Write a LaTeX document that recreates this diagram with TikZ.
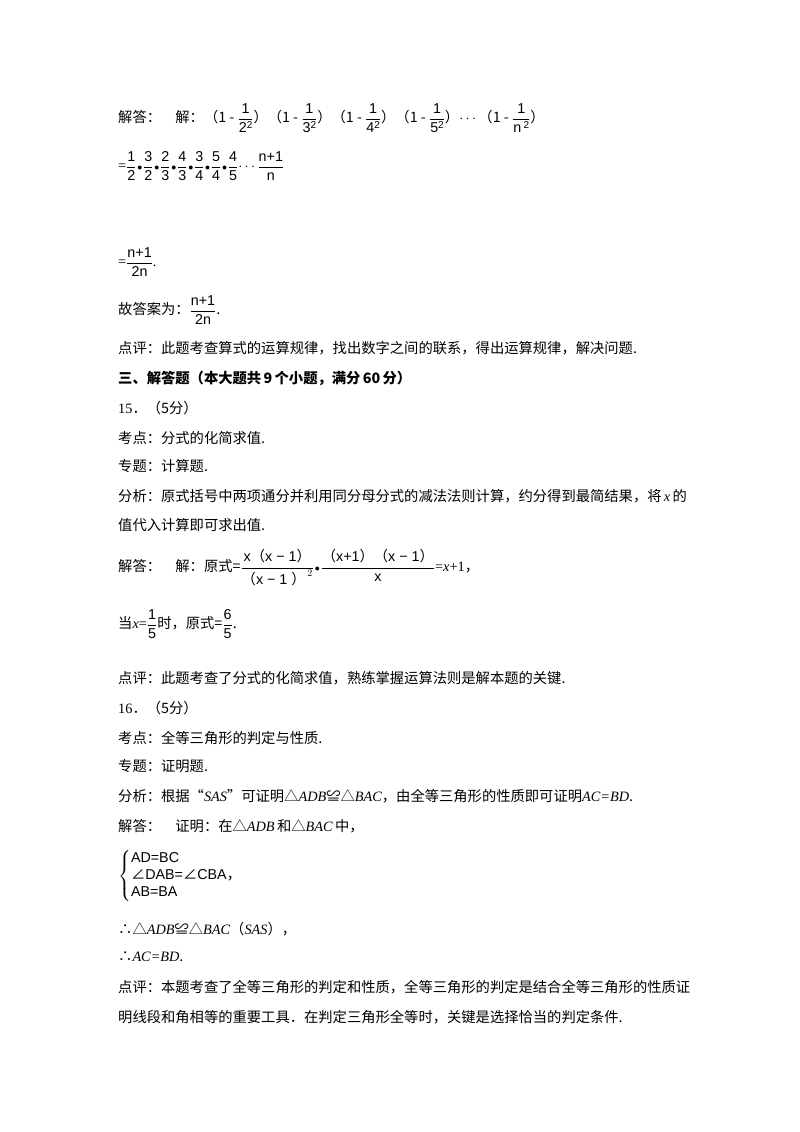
\documentclass[tikz,border=0pt]{standalone}
\usepackage{amsmath}
\usepackage{fontspec}
\setmainfont{Liberation Serif}
\newfontfamily\cjk{Noto Sans CJK SC}
\newfontfamily\sfx{Liberation Sans}
\newcommand{\fr}[2]{\ensuremath{\dfrac{\text{\sfx #1}}{\text{\sfx #2}}}}
\newcommand{\lp}{{\cjk （}}
\newcommand{\rp}{{\cjk ）}}
\newcommand{\dt}{\ensuremath{\mkern1mu{\scriptstyle\bullet}\mkern1mu}}
\newcommand{\sq}{\raisebox{0.55ex}{\fontsize{10}{10}\selectfont 2}}
\begin{document}
\begin{tikzpicture}[x=1pt,y=-1pt,t/.style={anchor=west,inner sep=0pt,font=\fontsize{14.3}{16}\selectfont}]
\useasboundingbox[fill=white] (0,0) rectangle (800,1132);
\node[t] (a1) at (118,118) {\cjk 解答：\quad 解：（1 - \fr{1}{2\sq}）（1 - \fr{1}{3\sq}）（1 - \fr{1}{4\sq}）（1 - \fr{1}{5\sq}）$\cdots$（1 - \fr{1}{n\,\sq}）};
\node[t] (a2) at (118,166) {=\fr{1}{2}\dt\fr{3}{2}\dt\fr{2}{3}\dt\fr{4}{3}\dt\fr{3}{4}\dt\fr{5}{4}\dt\fr{4}{5}$\cdots$\fr{n+1}{n}};
\node[t] (a3) at (118,262) {=\fr{n+1}{2n}.};
\node[t] (a4) at (118,310) {\cjk 故答案为：\fr{n+1}{2n}.};
\node[t] (a5) at (118,348) {\cjk 点评：此题考查算式的运算规律，找出数字之间的联系，得出运算规律，解决问题.};
\node[t] (a6) at (118,378) {\cjk\bfseries 三、解答题（本大题共\,9\,个小题，满分\,60\,分）};
\node[t] (b1) at (118,408) {15{\cjk ．（5分）}};
\node[t] (b2) at (118,438) {\cjk 考点：分式的化简求值.};
\node[t] (b3) at (118,466) {\cjk 专题：计算题.};
\node[t] (b4) at (118,496) {\cjk 分析：原式括号中两项通分并利用同分母分式的减法法则计算，约分得到最简结果，将\,{\rmfamily\itshape x}\,的};
\node[t] (b5) at (118,525) {\cjk 值代入计算即可求出值.};
\node[t] (b6) at (118,568) {\cjk 解答：\quad 解：原式=$\dfrac{\text{\sfx x\lp x − 1\rp}}{\text{\sfx \lp x − 1 \rp}^{\,2}}$\dt$\dfrac{\text{\sfx \lp x+1\rp\lp x − 1\rp}}{\text{\sfx x}}${\rmfamily =\textit{x}+1}，};
\node[t] (b7) at (118,624) {\cjk 当{\rmfamily\itshape x}{\rmfamily =}\fr{1}{5}时，原式=\fr{6}{5}.};
\node[t] (b8) at (118,678) {\cjk 点评：此题考查了分式的化简求值，熟练掌握运算法则是解本题的关键.};
\node[t] (c1) at (118,708) {16{\cjk ．（5分）}};
\node[t] (c2) at (118,738) {\cjk 考点：全等三角形的判定与性质.};
\node[t] (c3) at (118,766) {\cjk 专题：证明题.};
\node[t] (c4) at (118,796) {\cjk 分析：根据“{\rmfamily\itshape SAS}”可证明△{\rmfamily\itshape ADB}≌△{\rmfamily\itshape BAC}，由全等三角形的性质即可证明{\rmfamily\itshape AC=BD}.};
\node[t] (c5) at (118,826) {\cjk 解答：\quad 证明：在△{\rmfamily\itshape ADB}\,和△{\rmfamily\itshape BAC}\,中，};
\node[t] (c6) at (118,876) {$\left\{\begin{array}{@{}l@{}}\text{\sfx AD=BC}\\[1pt]\text{\cjk ∠{\sfx DAB=}∠{\sfx CBA}，}\\[1pt]\text{\sfx AB=BA}\end{array}\right.$};
\node[t] (c7) at (118,929) {\cjk ∴△{\rmfamily\itshape ADB}≌△{\rmfamily\itshape BAC}（{\rmfamily\itshape SAS}），};
\node[t] (c8) at (118,957) {\cjk ∴{\rmfamily\itshape AC=BD}.};
\node[t] (c9) at (118,987) {\cjk 点评：本题考查了全等三角形的判定和性质，全等三角形的判定是结合全等三角形的性质证};
\node[t] (c10) at (118,1017) {\cjk 明线段和角相等的重要工具．在判定三角形全等时，关键是选择恰当的判定条件.};
\end{tikzpicture}
\end{document}
